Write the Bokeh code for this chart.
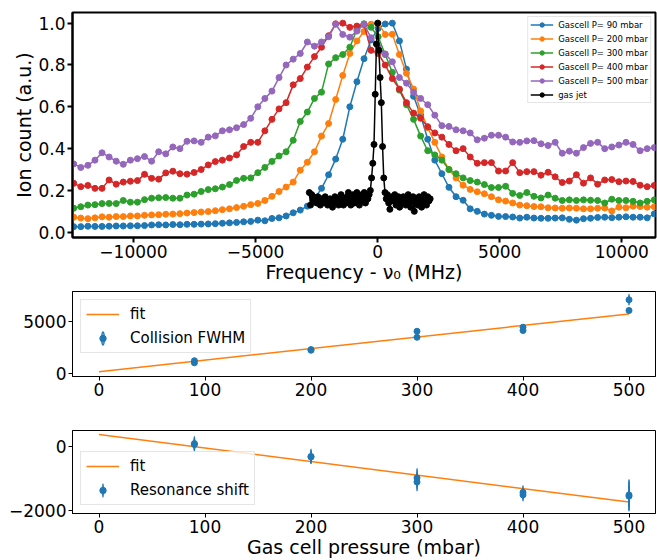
from bokeh.plotting import figure
from bokeh.layouts import column
from bokeh.models import Range1d, FixedTicker, CustomJSTickFormatter
from bokeh.embed import file_html
from bokeh.resources import INLINE

FONT = "DejaVu Sans"
C_BLUE, C_ORANGE, C_GREEN, C_RED, C_PURPLE = "#1f77b4", "#ff7f0e", "#2ca02c", "#d62728", "#9467bd"

# ---------------- data: top panel (ion count vs detuning) ----------------
freq = [-12450, -12160, -11870, -11580, -11290, -11000, -10710, -10420, -10130, -9840,
        -9550, -9260, -8970, -8680, -8390, -8100, -7810, -7520, -7230, -6940,
        -6650, -6360, -6070, -5780, -5490, -5200, -4910, -4620, -4330, -4040,
        -3750, -3460, -3170, -2880, -2590, -2300, -2010, -1720, -1430, -1140,
        -850, -560, -270, 20, 310, 600, 890, 1180, 1470, 1760,
        2050, 2340, 2630, 2920, 3210, 3500, 3790, 4080, 4370, 4660,
        4950, 5240, 5530, 5820, 6110, 6400, 6690, 6980, 7270, 7560,
        7850, 8140, 8430, 8720, 9010, 9300, 9590, 9880, 10170, 10460,
        10750, 11040, 11330]

gc_90 = [0.027, 0.027, 0.029, 0.028, 0.028, 0.029, 0.030, 0.030, 0.031, 0.031,
         0.032, 0.035, 0.036, 0.035, 0.037, 0.036, 0.038, 0.038, 0.039, 0.040,
         0.041, 0.043, 0.045, 0.047, 0.050, 0.052, 0.058, 0.055, 0.066, 0.069,
         0.078, 0.093, 0.106, 0.125, 0.160, 0.210, 0.275, 0.350, 0.445, 0.600,
         0.720, 0.830, 0.920, 0.975, 0.996, 1.000, 0.915, 0.780, 0.650, 0.560,
         0.445, 0.345, 0.280, 0.215, 0.170, 0.153, 0.112, 0.100, 0.087, 0.081,
         0.076, 0.075, 0.073, 0.068, 0.072, 0.068, 0.067, 0.067, 0.068, 0.069,
         0.062, 0.058, 0.065, 0.067, 0.071, 0.072, 0.070, 0.072, 0.074, 0.072,
         0.072, 0.069, 0.088]

gc_200 = [0.072, 0.068, 0.065, 0.069, 0.074, 0.072, 0.075, 0.075, 0.078, 0.078,
          0.081, 0.083, 0.084, 0.086, 0.087, 0.089, 0.092, 0.094, 0.097, 0.099,
          0.103, 0.108, 0.112, 0.118, 0.124, 0.132, 0.138, 0.152, 0.172, 0.195,
          0.216, 0.240, 0.297, 0.335, 0.385, 0.460, 0.520, 0.635, 0.750, 0.855,
          0.915, 0.960, 0.995, 1.000, 0.946, 0.947, 0.850, 0.760, 0.685, 0.580,
          0.500, 0.430, 0.360, 0.300, 0.260, 0.225, 0.205, 0.194, 0.184, 0.170,
          0.155, 0.149, 0.140, 0.130, 0.127, 0.123, 0.122, 0.117, 0.116, 0.115,
          0.116, 0.115, 0.112, 0.112, 0.115, 0.116, 0.102, 0.120, 0.117, 0.125,
          0.123, 0.120, 0.122]

gc_300 = [0.115, 0.122, 0.130, 0.132, 0.137, 0.138, 0.137, 0.152, 0.144, 0.144,
          0.156, 0.163, 0.165, 0.166, 0.163, 0.163, 0.178, 0.182, 0.195, 0.204,
          0.208, 0.216, 0.228, 0.248, 0.258, 0.260, 0.285, 0.310, 0.339, 0.365,
          0.385, 0.440, 0.530, 0.575, 0.640, 0.670, 0.805, 0.835, 0.850, 0.885,
          0.970, 0.997, 0.980, 0.935, 0.850, 0.765, 0.680, 0.610, 0.540, 0.460,
          0.390, 0.370, 0.345, 0.300, 0.280, 0.260, 0.247, 0.240, 0.228, 0.214,
          0.214, 0.220, 0.186, 0.176, 0.190, 0.172, 0.164, 0.178, 0.163, 0.152,
          0.155, 0.152, 0.155, 0.153, 0.152, 0.140, 0.158, 0.152, 0.152, 0.148,
          0.140, 0.148, 0.155]

gc_400 = [0.234, 0.218, 0.224, 0.210, 0.210, 0.250, 0.230, 0.240, 0.244, 0.247,
          0.277, 0.258, 0.254, 0.284, 0.292, 0.280, 0.278, 0.286, 0.300, 0.322,
          0.338, 0.345, 0.355, 0.370, 0.410, 0.430, 0.430, 0.485, 0.540, 0.590,
          0.620, 0.705, 0.735, 0.790, 0.840, 0.885, 0.940, 0.997, 1.000, 0.980,
          0.986, 0.994, 0.870, 0.855, 0.800, 0.735, 0.685, 0.620, 0.570, 0.545,
          0.505, 0.475, 0.455, 0.420, 0.390, 0.400, 0.360, 0.330, 0.333, 0.333,
          0.293, 0.293, 0.333, 0.285, 0.290, 0.290, 0.273, 0.287, 0.265, 0.238,
          0.245, 0.275, 0.235, 0.260, 0.230, 0.250, 0.252, 0.242, 0.245, 0.243,
          0.225, 0.218, 0.224]

gc_500 = [0.327, 0.310, 0.320, 0.345, 0.380, 0.360, 0.340, 0.325, 0.345, 0.352,
          0.362, 0.340, 0.385, 0.375, 0.408, 0.400, 0.435, 0.437, 0.430, 0.455,
          0.461, 0.485, 0.490, 0.500, 0.515, 0.545, 0.600, 0.640, 0.675, 0.740,
          0.800, 0.828, 0.855, 0.910, 0.890, 0.910, 0.935, 0.995, 0.946, 0.933,
          0.962, 0.995, 0.930, 0.885, 0.853, 0.815, 0.740, 0.713, 0.670, 0.640,
          0.610, 0.560, 0.510, 0.506, 0.490, 0.485, 0.475, 0.442, 0.450, 0.464,
          0.464, 0.455, 0.432, 0.430, 0.437, 0.438, 0.423, 0.415, 0.430, 0.378,
          0.388, 0.378, 0.405, 0.425, 0.430, 0.400, 0.408, 0.417, 0.430, 0.420,
          0.390, 0.400, 0.405]

jet_freq = [-2800, -2750, -2700, -2650, -2600, -2550, -2500, -2450, -2400, -2350,
            -2300, -2250, -2200, -2150, -2100, -2050, -2000, -1950, -1900, -1850,
            -1800, -1750, -1700, -1650, -1600, -1550, -1500, -1450, -1400, -1350,
            -1300, -1250, -1200, -1150, -1100, -1050, -1000, -950, -900, -850,
            -800, -750, -700, -650, -600, -550, -500, -450, -400, -350,
            -300, -250, -200, -150, -100, -50, 0, 50, 100, 150,
            200, 250, 300, 350, 400, 450, 500, 550, 600, 650,
            700, 750, 800, 850, 900, 950, 1000, 1050, 1100, 1150,
            1200, 1250, 1300, 1350, 1400, 1450, 1500, 1550, 1600, 1650,
            1700, 1750, 1800, 1850, 1900, 1950, 2000, 2050, 2100, 2150]

jet = [0.19, 0.13, 0.18, 0.17, 0.15, 0.16, 0.14, 0.17, 0.15, 0.13,
       0.16, 0.14, 0.15, 0.17, 0.14, 0.13, 0.15, 0.16, 0.14, 0.12,
       0.15, 0.17, 0.14, 0.16, 0.13, 0.15, 0.18, 0.15, 0.13, 0.16,
       0.14, 0.17, 0.19, 0.15, 0.13, 0.16, 0.18, 0.14, 0.15, 0.19,
       0.17, 0.13, 0.16, 0.18, 0.15, 0.19, 0.14, 0.17, 0.16, 0.18,
       0.20, 0.26, 0.33, 0.42, 0.66, 0.90, 1.00, 0.87, 0.74, 0.62,
       0.41, 0.26, 0.19, 0.16, 0.18, 0.14, 0.11, 0.15, 0.17, 0.16,
       0.18, 0.13, 0.15, 0.17, 0.12, 0.16, 0.14, 0.17, 0.15, 0.13,
       0.16, 0.18, 0.14, 0.12, 0.15, 0.17, 0.10, 0.14, 0.16, 0.13,
       0.17, 0.15, 0.12, 0.16, 0.18, 0.14, 0.13, 0.17, 0.15, 0.16]

series = [("Gascell P= 90 mbar", gc_90, C_BLUE),
          ("Gascell P= 200 mbar", gc_200, C_ORANGE),
          ("Gascell P= 300 mbar", gc_300, C_GREEN),
          ("Gascell P= 400 mbar", gc_400, C_RED),
          ("Gascell P= 500 mbar", gc_500, C_PURPLE)]

# ---------------- data: lower panels (vs gas cell pressure) ----------------
pressure = [90, 90, 200, 200, 300, 300, 400, 400, 500, 500]
fwhm = [1190, 990, 2260, 2200, 4030, 3450, 4420, 4100, 7060, 6030]
fwhm_err = [110, 100, 90, 80, 240, 200, 150, 140, 500, 220]
shift = [80, 50, -320, -340, -990, -1120, -1440, -1520, -1520, -1560]
shift_err = [210, 200, 220, 200, 280, 270, 200, 180, 480, 460]
fit_pressure = [0, 500]
fwhm_fit = [130, 5700]
shift_fit = [365, -1745]

top_xticks = [-10000, -5000, 0, 5000, 10000]
top_yticks = [0.0, 0.2, 0.4, 0.6, 0.8, 1.0]
p_xticks = [0, 100, 200, 300, 400, 500]
fwhm_yticks = [0, 5000]
shift_yticks = [-2000, 0]

MINUS_FMT = CustomJSTickFormatter(code="return (tick < 0 ? '\u2212' : '') + Math.abs(tick).toString();")


def style(p, w, tick_len):
    p.outline_line_color = "black"
    p.outline_line_width = w
    p.xgrid.visible = False
    p.ygrid.visible = False
    p.background_fill_color = "white"
    p.border_fill_color = "white"
    for ax in (p.xaxis[0], p.yaxis[0]):
        ax.axis_line_color = "black"
        ax.axis_line_width = w
        ax.major_tick_line_color = "black"
        ax.major_tick_line_width = w
        ax.major_tick_in = 0
        ax.major_tick_out = tick_len
        ax.minor_tick_line_color = None
        ax.major_label_text_font = FONT
        ax.major_label_text_font_size = "17px"
        ax.major_label_text_color = "black"
        ax.major_label_standoff = 2
        ax.axis_label_text_font = FONT
        ax.axis_label_text_font_size = "19px"
        ax.axis_label_text_font_style = "normal"
        ax.axis_label_text_color = "black"
        ax.axis_label_standoff = 0


def style_legend(lg, font_size, glyph_w, glyph_h, spacing, padding, standoff):
    lg.label_text_font = FONT
    lg.label_text_font_size = font_size
    lg.label_text_color = "black"
    lg.glyph_width = glyph_w
    lg.glyph_height = glyph_h
    lg.label_height = glyph_h
    lg.spacing = spacing
    lg.padding = padding
    lg.label_standoff = standoff
    lg.border_line_color = "#cccccc"
    lg.border_line_width = 1
    lg.background_fill_color = "white"
    lg.background_fill_alpha = 0.8


def errorbars(p, xs, ys, errs, label):
    # thin vertical ellipses act as error bars (and give a vertical legend glyph)
    p.ellipse(x=xs, y=ys, width=0.4, width_units="screen",
              height=[2 * e for e in errs], fill_color=None,
              line_color=C_BLUE, line_width=1.6, legend_label=label)
    p.scatter(xs, ys, size=6, color=C_BLUE, legend_label=label)


# ---------------- top figure ----------------
p1 = figure(width=657, height=287, x_range=Range1d(-12500, 11380), y_range=Range1d(-0.025, 1.051),
            output_backend="svg", toolbar_location=None,
            min_border_left=71, min_border_right=2, min_border_top=12, min_border_bottom=50)
for label, vals, col in series:
    p1.line(freq, vals, color=col, line_width=1.5, legend_label=label)
    p1.scatter(freq, vals, size=6, color=col, legend_label=label)
p1.line(jet_freq, jet, color="black", line_width=1.5, legend_label="gas jet")
p1.scatter(jet_freq, jet, size=6, color="black", legend_label="gas jet")
style(p1, 2, 5)
p1.xaxis[0].ticker = FixedTicker(ticks=top_xticks)
p1.xaxis[0].formatter = MINUS_FMT
p1.yaxis[0].ticker = FixedTicker(ticks=top_yticks)
p1.yaxis[0].formatter = CustomJSTickFormatter(code="return tick.toFixed(1);")
p1.xaxis[0].axis_label = "Frequency - \u03bd\u2080 (MHz)"
p1.yaxis[0].axis_label = "Ion count (a.u.)"
p1.legend.location = "top_right"
p1.legend.margin = 4
style_legend(p1.legend[0], "8.5px", 23, 11, 3, 2, 5)

# ---------------- middle figure ----------------
p2 = figure(width=657, height=139, x_range=Range1d(-25, 525), y_range=Range1d(-330, 7860),
            output_backend="svg", toolbar_location=None,
            min_border_left=72, min_border_right=2, min_border_top=4, min_border_bottom=50)
p2.line(fit_pressure, fwhm_fit, color=C_ORANGE, line_width=1.5, legend_label="fit")
errorbars(p2, pressure, fwhm, fwhm_err, "Collision FWHM")
style(p2, 1, 4)
p2.xaxis[0].ticker = FixedTicker(ticks=p_xticks)
p2.yaxis[0].ticker = FixedTicker(ticks=fwhm_yticks)
p2.yaxis[0].formatter = MINUS_FMT
p2.legend.location = "top_left"
p2.legend.margin = 8
style_legend(p2.legend[0], "15px", 33, 16, 6, 5, 11)

# ---------------- bottom figure ----------------
p3 = figure(width=657, height=134, x_range=Range1d(-25, 525), y_range=Range1d(-2100, 487),
            output_backend="svg", toolbar_location=None,
            min_border_left=72, min_border_right=2, min_border_top=4, min_border_bottom=45)
p3.line(fit_pressure, shift_fit, color=C_ORANGE, line_width=1.5, legend_label="fit")
errorbars(p3, pressure, shift, shift_err, "Resonance shift")
style(p3, 1, 4)
p3.xaxis[0].ticker = FixedTicker(ticks=p_xticks)
p3.yaxis[0].ticker = FixedTicker(ticks=shift_yticks)
p3.yaxis[0].formatter = MINUS_FMT
p3.xaxis[0].axis_label = "Gas cell pressure (mbar)"
p3.legend.location = "bottom_left"
p3.legend.margin = 8
style_legend(p3.legend[0], "15px", 33, 16, 6, 5, 11)

layout = column(p1, p2, p3)
open("out.html", "w").write(file_html(layout, INLINE))
